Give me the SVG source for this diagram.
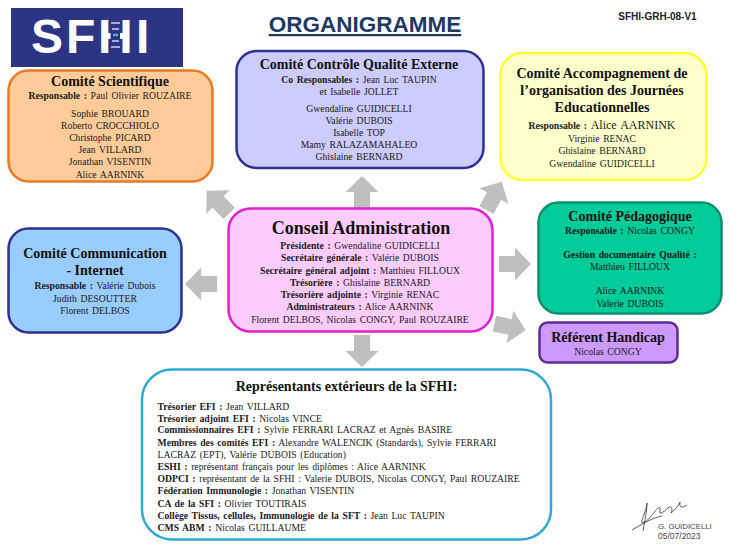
<svg xmlns="http://www.w3.org/2000/svg" width="730" height="548" viewBox="0 0 730 548">
<style>
text{font-family:"Liberation Serif","Times New Roman",serif;fill:#1a1a1a;font-size:9.700px;word-spacing:1.200px;text-anchor:middle}
.b{font-weight:bold}
.t{font-size:14px;font-weight:bold;fill:#111;word-spacing:0}
.l{text-anchor:start}
.s{font-family:"Liberation Sans",Arial,sans-serif;word-spacing:0}
.box{stroke-width:2.5}
.arrow{fill:#bfbfbf}
</style>
<defs><path id="a" d="M-16-8H0V-16.500L16 0L0 16.500V8H-16Z"/></defs>
<rect width="730" height="548" fill="#fff"/>
<g id="logo">
<rect x="11" y="8" width="172" height="59" fill="#2b3583"/>
<text x="31 66 98 136" y="53" class="s b" style="font-size:48px;text-anchor:start;fill:#fff">SFHI</text>
<rect x="110.500" y="17" width="9.500" height="37" fill="#2b3583"/>
<path d="M111 23H120M112 29H119M113 35H118M112 41H119M111 47H120" stroke="#c9d3ea" stroke-width="1.500"/>
<rect x="114" y="33.500" width="2.500" height="3" fill="#3fa0e0"/>
</g>
<text id="title" x="365" y="32" class="s b" style="font-size:22.500px;fill:#1f3864;text-decoration:underline">ORGANIGRAMME</text>
<text id="ref" x="657.500" y="20" class="s b" style="font-size:10px;fill:#222">SFHI-GRH-08-V1</text>
<g id="connectors" class="arrow">
<use href="#a" transform="translate(362 192) rotate(-90)"/>
<use href="#a" transform="translate(218 202) rotate(-135)"/>
<use href="#a" transform="translate(494 196) rotate(-62)"/>
<use href="#a" transform="translate(201 284) rotate(180)"/>
<use href="#a" transform="translate(515 264)"/>
<use href="#a" transform="translate(510 327) rotate(12)"/>
<use href="#a" transform="translate(362 351) rotate(90)"/>
</g>
<g id="comite-scientifique">
<rect class="box" x="8.500" y="70.500" width="204" height="111" rx="20" fill="#ffcc99" stroke="#e87a26"/>
<text class="t" x="110" y="86">Comité Scientifique</text>
<text x="110" y="99"><tspan class="b">Responsable :</tspan> Paul Olivier ROUZAIRE</text>
<text x="110" y="117">Sophie BROUARD</text>
<text x="110" y="129">Roberto CROCCHIOLO</text>
<text x="110" y="141">Christophe PICARD</text>
<text x="110" y="153">Jean VILLARD</text>
<text x="110" y="165">Jonathan VISENTIN</text>
<text x="110" y="178">Alice AARNINK</text>
</g>
<g id="comite-controle">
<rect class="box" x="236.500" y="51" width="247" height="117" rx="20" fill="#ccccff" stroke="#2e3192"/>
<text class="t" x="359" y="69">Comité Contrôle Qualité Externe</text>
<text x="359" y="82.500"><tspan class="b">Co Responsables :</tspan> Jean Luc TAUPIN</text>
<text x="359" y="94.500">et Isabelle JOLLET</text>
<text x="359" y="112">Gwendaline GUIDICELLI</text>
<text x="359" y="124">Valérie DUBOIS</text>
<text x="359" y="136">Isabelle TOP</text>
<text x="359" y="148">Mamy RALAZAMAHALEO</text>
<text x="359" y="160">Ghislaine BERNARD</text>
</g>
<g id="comite-accompagnement">
<rect class="box" x="500.500" y="53" width="206" height="127" rx="22" fill="#ffffcc" stroke="#ffff33"/>
<text class="t" x="602" y="78">Comité Accompagnement de</text>
<text class="t" x="602" y="95">l’organisation des Journées</text>
<text class="t" x="602" y="112">Educationnelles</text>
<text x="602" y="129"><tspan class="b">Responsable :</tspan> <tspan style="font-size:12px">Alice AARNINK</tspan></text>
<text x="602" y="142">Virginie RENAC</text>
<text x="602" y="154">Ghislaine BERNARD</text>
<text x="602" y="166.500">Gwendaline GUIDICELLI</text>
</g>
<g id="comite-communication">
<rect class="box" x="8.500" y="228.500" width="173" height="104" rx="20" fill="#99ccff" stroke="#2e3192"/>
<text class="t" x="95" y="258">Comité Communication</text>
<text class="t" x="95" y="275">- Internet</text>
<text x="95" y="289"><tspan class="b">Responsable :</tspan> Valérie Dubois</text>
<text x="95" y="301.500">Judith DESOUTTER</text>
<text x="95" y="314">Florent DELBOS</text>
</g>
<g id="conseil-administration">
<rect class="box" x="228.500" y="208.500" width="264" height="123" rx="22" fill="#ffccff" stroke="#e020d0"/>
<text class="b" x="361" y="234" style="font-size:18px;fill:#111;word-spacing:0">Conseil Administration</text>
<text x="360" y="248.500"><tspan class="b">Présidente :</tspan> Gwendaline GUIDICELLI</text>
<text x="360" y="261"><tspan class="b">Secrétaire générale :</tspan> Valérie DUBOIS</text>
<text x="360" y="273.500"><tspan class="b">Secrétaire général adjoint :</tspan> Matthieu FILLOUX</text>
<text x="360" y="285.500"><tspan class="b">Trésorière :</tspan> Ghislaine BERNARD</text>
<text x="360" y="297.500"><tspan class="b">Trésorière adjointe :</tspan> Virginie RENAC</text>
<text x="360" y="310"><tspan class="b">Administrateurs :</tspan> Alice AARNINK</text>
<text x="360" y="322.500">Florent DELBOS, Nicolas CONGY, Paul ROUZAIRE</text>
</g>
<g id="comite-pedagogique">
<rect class="box" x="538.500" y="202.500" width="183" height="111" rx="20" fill="#00cc99" stroke="#0e8f70"/>
<text class="t" x="630" y="221">Comité Pédagogique</text>
<text x="630" y="233.500"><tspan class="b">Responsable :</tspan> Nicolas CONGY</text>
<text class="b" x="630" y="257.500">Gestion documentaire Qualité :</text>
<text x="630" y="269.500">Matthieu FILLOUX</text>
<text x="630" y="293.500">Alice AARNINK</text>
<text x="630" y="306.500">Valerie DUBOIS</text>
</g>
<g id="referent-handicap">
<rect class="box" x="539.500" y="322.500" width="138" height="40" rx="8" fill="#cc99ff" stroke="#5f2d91"/>
<text class="t" x="608" y="342">Référent Handicap</text>
<text x="608" y="354.500">Nicolas CONGY</text>
</g>
<g id="representants">
<rect class="box" x="142" y="369.500" width="409" height="170" rx="30" fill="#fff" stroke="#2fa8d5"/>
<text class="t" x="346.500" y="391">Représentants extérieurs de la SFHI:</text>
<text class="l" x="157.500" y="409.500"><tspan class="b">Trésorier EFI :</tspan> Jean VILLARD</text>
<text class="l" x="157.500" y="421.500"><tspan class="b">Trésorier adjoint EFI :</tspan> Nicolas VINCE</text>
<text class="l" x="157.500" y="433"><tspan class="b">Commissionnaires EFI :</tspan> Sylvie FERRARI LACRAZ et Agnès BASIRE</text>
<text class="l" x="157.500" y="445.500"><tspan class="b">Membres des comités EFI :</tspan> Alexandre WALENCIK (Standards), Sylvie FERRARI</text>
<text class="l" x="157.500" y="457.500">LACRAZ (EPT), Valérie DUBOIS (Education)</text>
<text class="l" x="157.500" y="469.500"><tspan class="b">ESHI :</tspan> représentant français pour les diplômes : Alice AARNINK</text>
<text class="l" x="157.500" y="481.500"><tspan class="b">ODPCI :</tspan> représentant de la SFHI : Valerie DUBOIS, Nicolas CONGY, Paul ROUZAIRE</text>
<text class="l" x="157.500" y="494"><tspan class="b">Fédération Immunologie :</tspan> Jonathan VISENTIN</text>
<text class="l" x="157.500" y="506.500"><tspan class="b">CA de la SFI :</tspan> Olivier TOUTIRAIS</text>
<text class="l" x="157.500" y="518.500"><tspan class="b">Collège Tissus, cellules, Immunologie de la SFT :</tspan> Jean Luc TAUPIN</text>
<text class="l" x="157.500" y="530.500"><tspan class="b">CMS ABM :</tspan> Nicolas GUILLAUME</text>
</g>
<g id="signature">
<path d="M632 530C642 524 652 518 662 516M643 531C645 520 647 510 647 503C646 512 641 520 642 523C648 522 650 516 654 513C657 508 661 505 660 510C658 516 664 512 668 508C672 505 673 510 671 513C675 510 679 505 680 502C679 507 681 509 687 505" fill="none" stroke="#333" stroke-width=".8"/>
<text class="s l" x="658" y="528.500" style="font-size:7.800px;fill:#444">G. GUIDICELLI</text>
<text class="s l" x="658" y="538.500" style="font-size:8.500px;fill:#444">05/07/2023</text>
</g>
</svg>
